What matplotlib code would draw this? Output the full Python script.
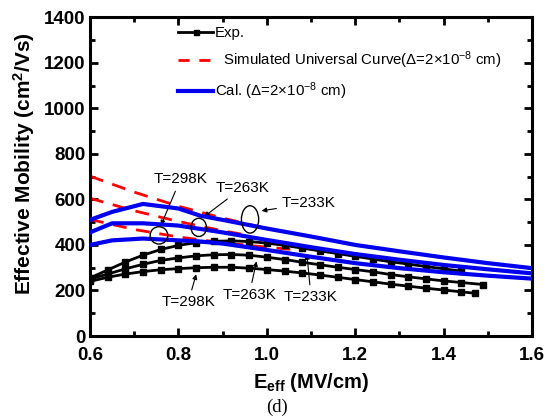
import numpy as np
import matplotlib
matplotlib.use("Agg")
import matplotlib.pyplot as plt
from matplotlib.patches import Ellipse

plt.rcParams['font.family'] = ['Liberation Sans', 'DejaVu Sans']
plt.rcParams['mathtext.fontset'] = 'custom'
plt.rcParams['mathtext.rm'] = 'Liberation Sans'
plt.rcParams['mathtext.bf'] = 'Liberation Sans:bold'
plt.rcParams['mathtext.it'] = 'Liberation Sans:italic'

# --- experimental data (233K, 263K, 298K)
exp_x_233 = [0.60, 0.64, 0.68, 0.72, 0.76, 0.80, 0.84, 0.88, 0.92, 0.96, 1.00, 1.04,
             1.08, 1.12, 1.16, 1.20, 1.24, 1.28, 1.32, 1.36, 1.40, 1.44]
exp_y_233 = [255, 290, 325, 355, 380, 398, 410, 416, 418, 415, 408, 398,
             386, 374, 362, 350, 338, 326, 316, 305, 295, 285]
exp_x_263 = [0.60, 0.64, 0.68, 0.72, 0.76, 0.80, 0.84, 0.88, 0.92, 0.96, 1.00, 1.04,
             1.08, 1.12, 1.16, 1.20, 1.24, 1.28, 1.32, 1.36, 1.40, 1.44, 1.49]
exp_y_263 = [250, 272, 295, 315, 332, 343, 352, 357, 358, 355, 346, 336,
             324, 313, 302, 292, 282, 270, 260, 251, 242, 235, 226]
exp_x_298 = [0.60, 0.64, 0.68, 0.72, 0.76, 0.80, 0.84, 0.88, 0.92, 0.96, 1.00, 1.04,
             1.08, 1.12, 1.16, 1.20, 1.24, 1.28, 1.32, 1.36, 1.40, 1.44, 1.47]
exp_y_298 = [240, 258, 272, 283, 291, 296, 300, 302, 302, 298, 292, 285,
             277, 268, 258, 248, 238, 228, 219, 210, 202, 194, 188]

# --- simulated universal curves
uni_x_233 = [0.60, 0.70, 0.80, 0.90, 1.00]
uni_y_233 = [702, 632, 570, 518, 472]
uni_x_263 = [0.60, 0.70, 0.80, 0.90, 0.95]
uni_y_263 = [605, 550, 503, 462, 445]
uni_x_298 = [0.60, 0.70, 0.80, 0.90, 1.00, 1.08]
uni_y_298 = [512, 468, 435, 410, 390, 376]

# --- calculated curves
cal_x = [0.60, 0.65, 0.72, 0.80, 0.85, 0.90, 1.00, 1.10, 1.20, 1.30, 1.40, 1.50, 1.60]
cal_y_233 = [510, 545, 580, 560, 528, 510, 472, 437, 400, 372, 345, 320, 298]
cal_y_263 = [455, 495, 495, 485, 470, 455, 422, 390, 360, 335, 312, 293, 275]
cal_y_298 = [400, 420, 428, 420, 415, 406, 378, 348, 320, 298, 280, 265, 252]

fig = plt.figure(figsize=(5.52, 4.19), dpi=100)
ax = fig.add_axes([0.163, 0.198, 0.801, 0.761])

# red dashed, under the blue
for xs, ys in [(uni_x_233, uni_y_233), (uni_x_263, uni_y_263), (uni_x_298, uni_y_298)]:
    ax.plot(xs, ys, color='red', lw=2.0, ls=(0, (5, 3.5)), zorder=2)

for xs, ys in [(exp_x_233, exp_y_233), (exp_x_263, exp_y_263), (exp_x_298, exp_y_298)]:
    ax.plot(xs, ys, color='black', lw=2.0, marker='s', ms=4.5, zorder=3)

for ys in [cal_y_233, cal_y_263, cal_y_298]:
    ax.plot(cal_x, ys, color='#0000ee', lw=3.0, zorder=4)

# legend handles
h_exp, = ax.plot([], [], color='black', lw=2.0, marker='s', ms=4)
h_uni, = ax.plot([], [], color='red', lw=2.0, ls=(0, (4, 3.5)))
h_cal, = ax.plot([], [], color='#0000ee', lw=3.0)
ax.legend([h_exp, h_uni, h_cal],
          ['Exp.', r'  Simulated Universal Curve($\Delta$=2$\times$10$^{-8}$ cm)',
           r'Cal. ($\Delta$=2$\times$10$^{-8}$ cm)'],
          loc='upper left', bbox_to_anchor=(0.199, 0.972), frameon=False,
          borderpad=0, borderaxespad=0,
          fontsize=10.8, handlelength=2.35, handletextpad=0.1, labelspacing=0.62,
          markerscale=0.9)

# ellipses marking the three temperatures
for (cx, cy, w, h) in [(0.756, 442, 0.040, 76), (0.846, 477, 0.035, 80), (0.962, 512, 0.039, 120)]:
    ax.add_patch(Ellipse((cx, cy), w, h, fill=False, ec='black', lw=1.0, zorder=5))

arrow = dict(arrowstyle='-|>', color='black', lw=0.8, mutation_scale=7)
fs = 11
ax.annotate('T=298K', xy=(0.758, 475), xytext=(0.805, 690), ha='center', va='center',
            fontsize=fs, arrowprops=arrow)
ax.annotate('T=263K', xy=(0.853, 517), xytext=(0.945, 652), ha='center', va='center',
            fontsize=fs, arrowprops=arrow)
ax.annotate('T=233K', xy=(0.982, 548), xytext=(1.095, 582), ha='center', va='center',
            fontsize=fs, arrowprops=arrow)
ax.annotate('T=298K', xy=(0.842, 283), xytext=(0.822, 148), ha='center', va='center',
            fontsize=fs, arrowprops=arrow)
ax.annotate('T=263K', xy=(0.978, 340), xytext=(0.96, 180), ha='center', va='center',
            fontsize=fs, arrowprops=arrow)
ax.annotate('T=233K', xy=(1.09, 372), xytext=(1.10, 170), ha='center', va='center',
            fontsize=fs, arrowprops=arrow)

ax.set_xlim(0.6, 1.6)
ax.set_ylim(0, 1400)
ax.set_xticks(np.arange(0.6, 1.61, 0.2))
ax.set_xticks(np.arange(0.7, 1.6, 0.2), minor=True)
ax.set_yticks(np.arange(0, 1401, 200))
ax.set_yticks(np.arange(100, 1400, 200), minor=True)
ax.set_xticklabels(['0.6', '0.8', '1.0', '1.2', '1.4', '1.6'])
ax.tick_params(which='both', direction='in', top=True, right=True, width=2.0)
ax.tick_params(which='major', length=6, labelsize=13.5)
ax.tick_params(which='minor', length=3.5)
ax.tick_params(axis='x', which='major', pad=8)
ax.tick_params(axis='y', which='major', pad=3)
for lab in ax.get_xticklabels() + ax.get_yticklabels():
    lab.set_fontweight('bold')
for sp in ax.spines.values():
    sp.set_linewidth(2.2)

ax.set_xlabel(r'$\mathbf{E_{eff}}$ (MV/cm)', fontsize=14.5, fontweight='bold', labelpad=5)
ax.set_ylabel(r'Effective Mobility (cm$^{\mathbf{2}}$/Vs)', fontsize=15, fontweight='bold')
ax.yaxis.set_label_coords(-0.12, 0.54)

fig.text(0.502, 0.028, '(d)', family='Liberation Serif', fontsize=13.5, ha='center', va='center')

fig.savefig('out.png', dpi=100)
